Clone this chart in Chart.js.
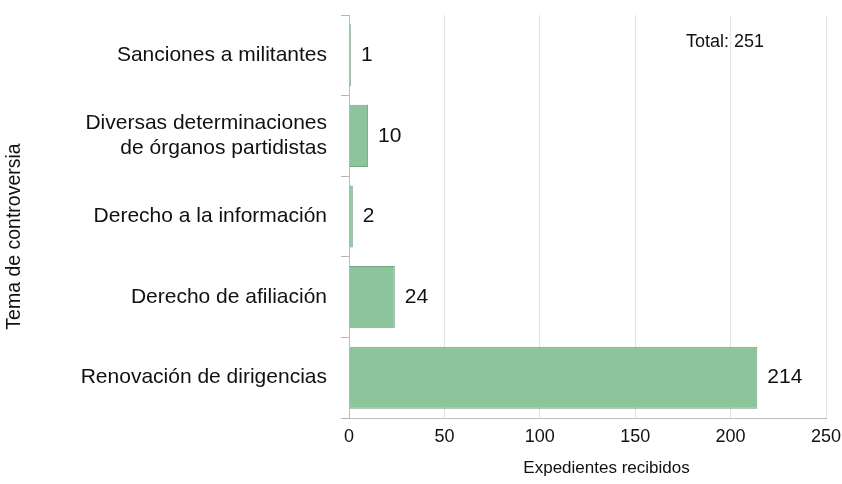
<!DOCTYPE html>
<html lang="es">
  <head>
    <meta charset="UTF-8" />
    <title>Expedientes recibidos por tema de controversia</title>
    <script src="https://cdn.jsdelivr.net/npm/chart.js"></script>
    <style>
      body {
        margin: 0;
        background: #fff;
      }
      .chart-box {
        width: 842px;
        height: 484px;
      }
    </style>
  </head>
  <body>
    <div class="chart-box">
      <canvas id="temasChart"></canvas>
    </div>

    <script>
      // datos
      const categorias = [
        "Sanciones a militantes",
        ["Diversas determinaciones", "de órganos partidistas"],
        "Derecho a la información",
        "Derecho de afiliación",
        "Renovación de dirigencias",
      ];
      const expedientes = [1, 10, 2, 24, 214];
      const total = 251;
      const ejeMax = 250;
      const ejePaso = 50;

      const fuente = "'Liberation Sans', Arial, sans-serif";

      // etiquetas de valor, total y títulos de los ejes
      // (en el original los títulos no quedan centrados en el área del gráfico)
      const etiquetasPlugin = {
        id: "etiquetas",
        afterDatasetsDraw(chart) {
          const ctx = chart.ctx;
          const area = chart.chartArea;
          const meta = chart.getDatasetMeta(0);
          ctx.save();
          ctx.fillStyle = "#111";
          ctx.font = "21px " + fuente;
          ctx.textAlign = "left";
          ctx.textBaseline = "middle";
          meta.data.forEach((bar, i) => {
            ctx.fillText(String(expedientes[i]), bar.x + 10, bar.y);
          });
          ctx.font = "18px " + fuente;
          ctx.fillText("Total: " + total, area.left + 337, area.top + 27);

          ctx.font = "17px " + fuente;
          ctx.textAlign = "center";
          ctx.fillText("Expedientes recibidos", (area.left + area.right) / 2 + 19, area.bottom + 50);

          ctx.font = "19.5px " + fuente;
          ctx.translate(15, (area.top + area.bottom) / 2 + 20);
          ctx.rotate(-Math.PI / 2);
          ctx.fillText("Tema de controversia", 0, 0);
          ctx.restore();
        },
      };

      const ctx = document.getElementById("temasChart").getContext("2d");
      new Chart(ctx, {
        type: "bar",
        data: {
          labels: categorias,
          datasets: [
            {
              label: "Expedientes recibidos",
              data: expedientes,
              backgroundColor: "#8dc49b",
              borderColor: "#72a480",
              borderWidth: 1,
              categoryPercentage: 1,
              barPercentage: 0.77,
            },
          ],
        },
        options: {
          indexAxis: "y",
          responsive: true,
          maintainAspectRatio: false,
          animation: false,
          layout: {
            padding: { top: 15, right: 16, bottom: 6, left: 0 },
          },
          plugins: {
            legend: { display: false },
            tooltip: { enabled: false },
          },
          scales: {
            x: {
              min: 0,
              max: ejeMax,
              ticks: {
                stepSize: ejePaso,
                color: "#111",
                padding: 8,
                font: { family: fuente, size: 18 },
              },
              grid: {
                color: "#e3e3e3",
                drawTicks: false,
              },
              border: { color: "#bdbdbd" },
              afterFit(scale) {
                scale.height = 60;
                scale.paddingLeft = 0;
                scale.paddingRight = 0;
              },
            },
            y: {
              ticks: {
                color: "#111",
                padding: 14,
                font: { family: fuente, size: 21 },
              },
              grid: {
                drawOnChartArea: false,
                drawTicks: true,
                tickLength: 8,
                color: "#b5b5b5",
              },
              border: { color: "#bdbdbd" },
              afterFit(scale) {
                scale.width = 349;
                scale.paddingTop = 0;
                scale.paddingBottom = 0;
              },
            },
          },
        },
        plugins: [etiquetasPlugin],
      });
    </script>
  </body>
</html>
